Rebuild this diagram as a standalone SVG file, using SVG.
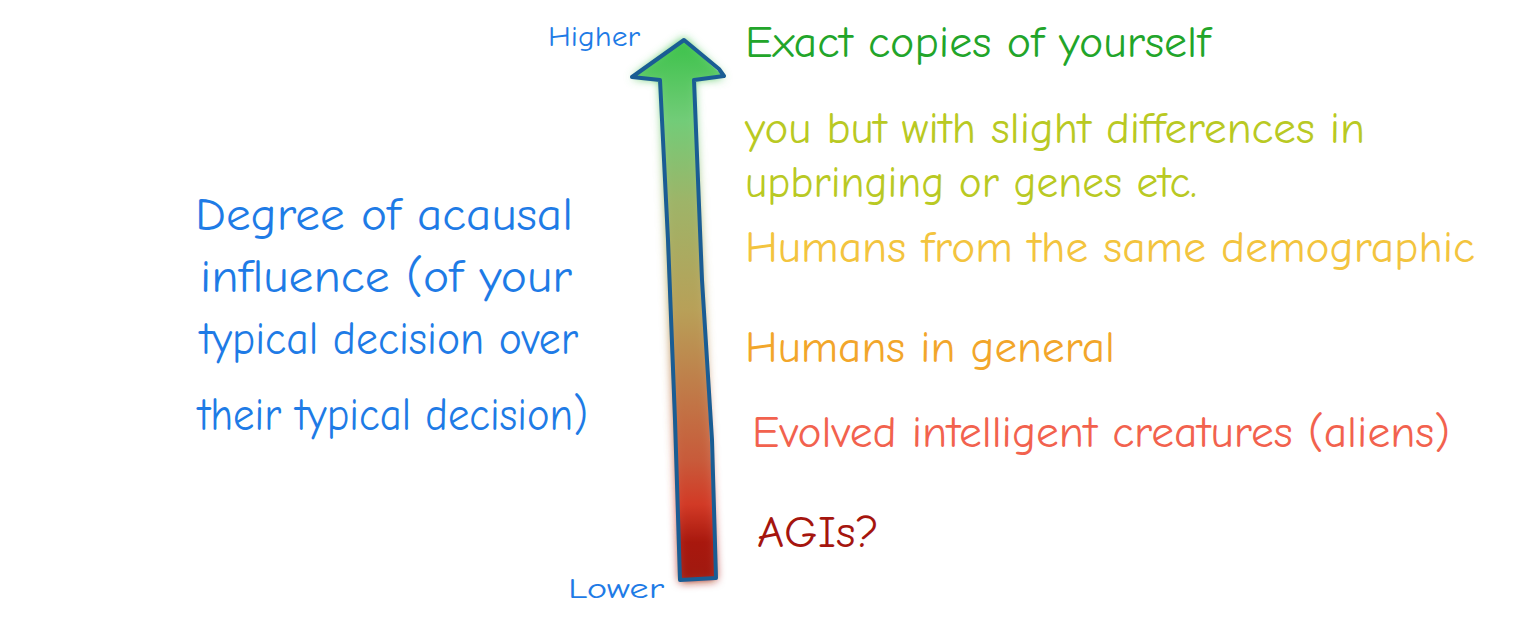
<svg xmlns="http://www.w3.org/2000/svg" width="1536" height="634" viewBox="0 0 1536 634">
<style>
text{font-family:"Comic Neue","Liberation Sans",sans-serif;font-weight:normal}
.blue{fill:#1e7be6}
.lab{font-size:44px}
.out{fill:none;stroke:#1a5d94;stroke-width:4;stroke-linejoin:round;stroke-linecap:round}
</style>
<defs>
<linearGradient id="g" x1="0" y1="40" x2="0" y2="580" gradientUnits="userSpaceOnUse">
<stop offset="0" stop-color="#3cc24a"/>
<stop offset="0.15" stop-color="#72cc78"/>
<stop offset="0.3" stop-color="#9eb468"/>
<stop offset="0.5" stop-color="#b8a058"/>
<stop offset="0.65" stop-color="#c07a48"/>
<stop offset="0.78" stop-color="#c85a3a"/>
<stop offset="0.86" stop-color="#d23a26"/>
<stop offset="0.93" stop-color="#a8180e"/>
<stop offset="1" stop-color="#a01a10"/>
</linearGradient>
<filter id="blur" x="-50%" y="-10%" width="200%" height="120%"><feGaussianBlur stdDeviation="5"/></filter>
</defs>
<rect width="1536" height="634" fill="#ffffff"/>
<g id="arrow">
<path d="M684 38 L632 78 L660 80 L680 582 L716 580 L694 80 L724 78 Z" fill="url(#g)" filter="url(#blur)"/>
<path d="M684 40 L632 78 L660 80 L680 580 L716 578 L694 80 L724 77 Z" fill="url(#g)" opacity="0.85"/>
<path class="out" d="M660 80 L632 77 L684 40 L719 69 L724 76 L694 80 L702 280 L712 440 L716 578 L680 580 L675 420 L668 240 Z"/>
</g>
<g id="higher"><text class="blue" x="548" y="46" font-size="29" textLength="92" lengthAdjust="spacingAndGlyphs">Higher</text></g>
<g id="lower"><text class="blue" x="568" y="598" font-size="29" textLength="96" lengthAdjust="spacingAndGlyphs">Lower</text></g>
<g id="axis-label" class="blue" font-size="46">
<text x="195" y="230" textLength="378" lengthAdjust="spacingAndGlyphs">Degree of acausal</text>
<text x="200" y="292" textLength="372" lengthAdjust="spacingAndGlyphs">influence (of your</text>
<text x="200" y="354" textLength="378" lengthAdjust="spacingAndGlyphs">typical decision over</text>
<text x="198" y="430" textLength="390" lengthAdjust="spacingAndGlyphs">their typical decision)</text>
</g>
<g id="exact"><text class="lab" x="745" y="57" fill="#22a52a" textLength="465" lengthAdjust="spacingAndGlyphs">Exact copies of yourself</text></g>
<g id="slight" fill="#b9c923" class="lab">
<text x="745" y="143" textLength="620" lengthAdjust="spacingAndGlyphs">you but with slight differences in</text>
<text x="745" y="197" textLength="452" lengthAdjust="spacingAndGlyphs">upbringing or genes etc.</text>
</g>
<g id="demographic"><text class="lab" x="745" y="262" fill="#f3c43e" textLength="730" lengthAdjust="spacingAndGlyphs">Humans from the same demographic</text></g>
<g id="general"><text class="lab" x="745" y="362" fill="#f2a62a" textLength="370" lengthAdjust="spacingAndGlyphs">Humans in general</text></g>
<g id="aliens"><text class="lab" x="752" y="447" fill="#f2624e" textLength="698" lengthAdjust="spacingAndGlyphs">Evolved intelligent creatures (aliens)</text></g>
<g id="agi"><text class="lab" x="757" y="547" fill="#a5150e" textLength="122" lengthAdjust="spacingAndGlyphs">AGIs?</text></g>
</svg>
